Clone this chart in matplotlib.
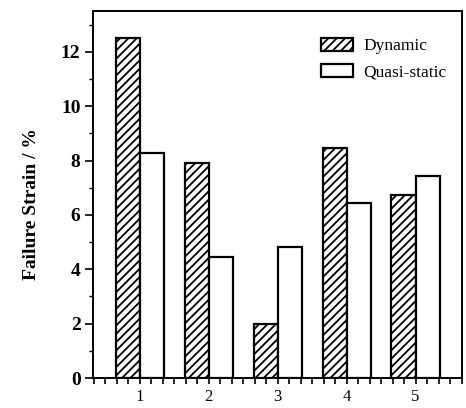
import numpy as np
import matplotlib
matplotlib.use("Agg")
import matplotlib.pyplot as plt
from matplotlib.ticker import MultipleLocator

plt.rcParams['font.family'] = ['Liberation Serif', 'DejaVu Serif']
plt.rcParams['hatch.linewidth'] = 1.3

# data
groups = [1, 2, 3, 4, 5]
dynamic = [12.5, 7.9, 2.0, 8.45, 6.75]
quasi_static = [8.28, 4.45, 4.82, 6.45, 7.42]

fig = plt.figure(figsize=(4.66, 4.08), dpi=100)
ax = fig.add_axes([0.1996, 0.0735, 0.7914, 0.8995])

x = np.array(groups, dtype=float)
w = 0.35
ax.bar(x, dynamic, width=-w, align='edge', facecolor='white', edgecolor='black',
       linewidth=1.6, hatch='////', label='Dynamic')
ax.bar(x, quasi_static, width=w, align='edge', facecolor='white', edgecolor='black',
       linewidth=1.6, label='Quasi-static')

ax.set_xlim(0.32, 5.67)
ax.set_ylim(0, 13.5)

ax.xaxis.set_major_locator(MultipleLocator(1))
ax.xaxis.set_minor_locator(MultipleLocator(1 / 6))
ax.yaxis.set_major_locator(MultipleLocator(2))
ax.yaxis.set_minor_locator(MultipleLocator(1))

ax.tick_params(axis='x', which='both', direction='out', length=4, width=1.2,
               labelsize=12, pad=4)
ax.tick_params(axis='y', which='major', direction='out', length=6, width=1.2,
               labelsize=14, pad=3)
ax.tick_params(axis='y', which='minor', direction='out', length=3, width=1)
for lab in ax.get_yticklabels():
    lab.set_fontweight('bold')

for s in ax.spines.values():
    s.set_linewidth(1.4)

ax.set_ylabel('Failure Strain / %', fontsize=14, fontweight='bold')
ax.yaxis.set_label_coords(-0.145, 0.475)

ax.legend(loc='upper right', frameon=False, fontsize=12.5, handlelength=1.8,
          handleheight=0.8, handletextpad=0.6, labelspacing=0.55,
          bbox_to_anchor=(1.0, 0.97))

fig.savefig('out.png', dpi=100)
